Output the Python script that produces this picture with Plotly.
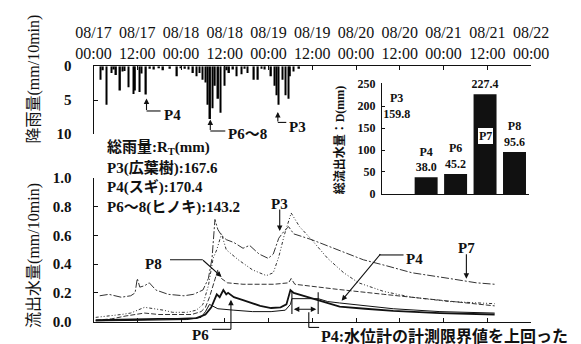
import plotly.graph_objects as go

W, H = 581, 344

# ---------------- data ----------------
tick_hours = [0, 12, 24, 36, 48, 60, 72, 84, 96, 108, 120]
tick_dates = ["08/17", "08/17", "08/18", "08/18", "08/19", "08/19",
              "08/20", "08/20", "08/21", "08/21", "08/22"]
tick_times = ["00:00", "12:00", "00:00", "12:00", "00:00", "12:00",
              "00:00", "12:00", "00:00", "12:00", "00:00"]

# rainfall (hours since 08/17 00:00, mm/10min)
rain_t = [1.9, 3.5, 4.9, 6.2, 7.3, 7.9, 9.6, 10.9, 11.4, 12.7, 13.2, 14.4,
          16.6, 19.1, 22.9, 25.1, 27.3, 28.2, 29.0, 29.9, 30.7, 31.3, 32.0,
          32.6, 33.3, 34.2, 34.8, 35.9, 37.2, 39.3, 40.6, 42.3, 44.0, 45.1,
          47.0, 48.7, 49.6, 50.2, 50.7, 51.8, 52.6, 53.5, 53.9, 54.9, 56.4,
          2.6, 5.6, 8.5, 15.5, 18.0, 21.0, 24.0, 26.0, 36.5, 38.3, 41.5, 46.0]
rain_v = [2.0, 5.7, 1.0, 1.3, 3.6, 0.8, 3.1, 4.1, 3.6, 3.8, 1.1, 4.2,
          0.5, 0.6, 1.5, 0.4, 1.0, 1.5, 1.0, 2.0, 2.4, 5.7, 7.8,
          6.2, 2.9, 4.8, 6.9, 2.9, 1.0, 1.5, 1.2, 1.0, 2.0, 2.0,
          0.5, 1.5, 2.9, 4.3, 5.7, 2.0, 4.3, 4.8, 1.5, 0.8, 0.4,
          0.6, 0.5, 0.7, 0.4, 0.3, 0.4, 0.3, 0.5, 0.6, 0.5, 0.4, 0.4]

# outflow (hours, mm/10min)
p7_t = [1.7, 4.2, 7.6, 10.2, 11.4, 12.0, 12.7, 14.0, 15.3, 17.1, 20.5, 24.8,
        27.4, 30.0, 31.5, 32.5, 33.3, 34.1, 35.1, 36.4, 38.5, 41.0, 42.8,
        45.4, 47.9, 49.3, 50.8, 52.3, 53.5, 54.9, 59.8, 67.0, 74.0, 80.1,
        87.3, 97.6, 105.0, 110.0]
p7_v = [0.18, 0.19, 0.17, 0.18, 0.20, 0.30, 0.24, 0.25, 0.27, 0.22, 0.19, 0.18,
        0.19, 0.22, 0.30, 0.44, 0.71, 0.64, 0.60, 0.57, 0.55, 0.51, 0.53,
        0.47, 0.44, 0.47, 0.58, 0.63, 0.66, 0.61, 0.57, 0.50, 0.43, 0.39,
        0.34, 0.30, 0.27, 0.26]

p3_t = [0.6, 5.0, 7.6, 10.2, 12.0, 14.0, 16.6, 19.2, 21.7, 25.6, 28.2, 30.0,
        31.5, 32.8, 33.8, 35.1, 36.4, 39.7, 43.6, 47.4, 49.3, 50.8, 52.3,
        54.2, 56.5, 59.8, 64.2, 68.6, 72.7, 79.6, 87.3, 97.6, 110.0]
p3_v = [0.03, 0.04, 0.05, 0.06, 0.08, 0.10, 0.09, 0.08, 0.065, 0.065, 0.08, 0.12,
        0.25, 0.44, 0.50, 0.61, 0.50, 0.43, 0.36, 0.32, 0.34, 0.45, 0.60,
        0.755, 0.66, 0.57, 0.44, 0.34, 0.27, 0.21, 0.17, 0.14, 0.125]

p8_t = [0.6, 5.0, 8.9, 11.4, 14.0, 17.9, 23.0, 26.9, 29.5, 30.7, 31.8, 33.1,
        34.1, 35.1, 36.7, 41.0, 49.5, 53.5, 54.2, 55.2, 59.8, 66.8, 79.6,
        95.0, 110.0]
p8_v = [0.01, 0.02, 0.04, 0.05, 0.06, 0.05, 0.05, 0.05, 0.07, 0.10, 0.17, 0.28,
        0.36, 0.30, 0.27, 0.26, 0.26, 0.27, 0.30, 0.26, 0.245, 0.225, 0.19,
        0.15, 0.11]

p6_t = [0.6, 7.6, 12.7, 17.9, 23.0, 28.2, 30.7, 32.3, 33.8, 34.6, 35.6, 36.4,
        36.9, 38.5, 41.0, 43.6, 45.7, 48.7, 51.3, 52.9, 54.0, 54.9, 59.0,
        61.6, 67.5, 74.5, 82.2, 95.0, 110.0]
p6_v = [0.01, 0.015, 0.02, 0.02, 0.02, 0.025, 0.05, 0.10, 0.19, 0.17, 0.22, 0.19,
        0.20, 0.17, 0.15, 0.13, 0.11, 0.095, 0.10, 0.12, 0.22, 0.20, 0.17,
        0.15, 0.105, 0.09, 0.075, 0.06, 0.05]

p4_t = [0.6, 10.2, 17.9, 25.6, 29.5, 30.7, 31.8, 33.1, 34.1, 38.5, 43.6, 48.7,
        52.6, 54.0, 54.4, 61.6, 64.2, 67.5, 74.5, 82.2, 95.0, 110.0]
p4_v = [0.005, 0.01, 0.015, 0.015, 0.03, 0.07, 0.12, 0.10, 0.09, 0.08, 0.07, 0.07,
        0.08, 0.12, 0.16, 0.16, 0.14, 0.13, 0.11, 0.09, 0.07, 0.06]

bar_sites = ["P3", "P4", "P6", "P7", "P8"]
bar_values = [159.8, 38.0, 45.2, 227.4, 95.6]

total_rain_sites = ["P3(広葉樹)", "P4(スギ)", "P6～8(ヒノキ)"]
total_rain_values = [167.6, 170.4, 143.2]

# ---------------- helpers ----------------
def px(x):
    return x / W

def py(y):
    return 1 - y / H

SERIF = "Liberation Serif, Noto Sans CJK JP"
INK = "#111111"

fig = go.Figure()

# rain bars
fig.add_trace(go.Bar(x=rain_t, y=rain_v, width=0.4, marker=dict(color="black", line=dict(width=0)),
                     xaxis="x", yaxis="y", hoverinfo="skip"))

# outflow lines
series = [
    (p7_t, p7_v, dict(color="#333333", width=1.0, dash="8px,2px,2px,2px")),
    (p3_t, p3_v, dict(color="#333333", width=1.0, dash="3px,2px,1px,2px,1px,2px")),
    (p8_t, p8_v, dict(color="#333333", width=1.0, dash="5px,2px")),
    (p4_t, p4_v, dict(color=INK, width=1.0)),
    (p6_t, p6_v, dict(color=INK, width=1.8)),
]
for t, v, ln in series:
    fig.add_trace(go.Scatter(x=t, y=v, mode="lines", line=ln, xaxis="x2", yaxis="y2",
                             hoverinfo="skip"))

# inset bars
bar_colors = ["white", INK, INK, INK, INK]
bar_texts = ["%s<br>%.1f" % (s, v) for s, v in zip(bar_sites, bar_values)]
bar_texts[3] = "%.1f" % bar_values[3]
fig.add_trace(go.Bar(x=bar_sites, y=bar_values, width=0.78,
                     marker=dict(color=bar_colors, line=dict(width=0)),
                     text=bar_texts, textposition="outside", cliponaxis=False,
                     constraintext="none",
                     textfont=dict(family=SERIF, size=12, color=INK, weight="bold"),
                     xaxis="x3", yaxis="y3", hoverinfo="skip"))

ticktext = ["%s<br>%s" % (d, t) for d, t in zip(tick_dates, tick_times)]
XDOM = [px(80.5), px(547)]
bold15 = dict(family=SERIF, size=15, color=INK, weight="bold")

fig.update_layout(
    width=W, height=H, margin=dict(l=0, r=0, t=0, b=0),
    paper_bgcolor="white", plot_bgcolor="rgba(0,0,0,0)", showlegend=False,
    barmode="overlay",
    xaxis=dict(domain=XDOM, anchor="y", side="top", range=[0, 120],
               tickvals=tick_hours, ticktext=ticktext, ticks="inside", ticklen=4,
               tickcolor=INK, showline=True, linecolor=INK, linewidth=1.2,
               showgrid=False, zeroline=False,
               tickfont=dict(family=SERIF, size=16, color=INK)),
    yaxis=dict(domain=[py(132), py(61)], anchor="x", range=[10, 0],
               tickvals=[0, 5, 10], ticks="inside", ticklen=4, tickcolor=INK,
               showline=True, linecolor=INK, linewidth=1.2, showgrid=False,
               zeroline=False, tickfont=bold15, ticklabelstandoff=18),
    xaxis2=dict(domain=XDOM, anchor="y2", range=[0, 120], tickvals=tick_hours,
                showticklabels=False, ticks="inside", ticklen=4, tickcolor=INK,
                showline=True, linecolor=INK, linewidth=1.2, showgrid=False,
                zeroline=False),
    yaxis2=dict(domain=[py(329), py(178)], anchor="x2", range=[0, 1.0],
                tickvals=[0, 0.2, 0.4, 0.6, 0.8, 1.0], tickformat=".1f",
                ticks="inside", ticklen=4, tickcolor=INK, showline=True,
                linecolor=INK, linewidth=1.2, showgrid=False, zeroline=False,
                tickfont=bold15, ticklabelstandoff=18),
    xaxis3=dict(domain=[px(388), px(545)], anchor="y3", type="category",
                range=[-0.5, 4.5], showticklabels=False, ticks="",
                showline=True, linecolor=INK, linewidth=1.2, showgrid=False),
    yaxis3=dict(domain=[py(195), py(79)], anchor="x3", range=[0, 252],
                tickvals=[0, 50, 100, 150, 200, 250], ticks="inside", ticklen=3,
                tickcolor=INK, showline=True, linecolor=INK, linewidth=1.0,
                showgrid=False, zeroline=False, ticklabelstandoff=3,
                tickfont=dict(family=SERIF, size=12, color=INK, weight="bold")),
)

ann = []
shapes = []
DY = 4  # vertical correction of text boxes

def text(x, y, s, size=15, xanchor="left", bold=True, angle=0):
    ann.append(dict(x=px(x), y=py(y + (DY if angle == 0 else 0)), xref="paper", yref="paper",
                    text=s, showarrow=False, xanchor=xanchor, yanchor="middle",
                    textangle=angle,
                    font=dict(family=SERIF, size=size, color=INK,
                              weight="bold" if bold else "normal")))

def arrow(x0, y0, x1, y1, both=False):
    d = dict(x=px(x1), y=py(y1), xref="paper", yref="paper", text="",
             showarrow=True, ax=x0 - x1, ay=y0 - y1, axref="pixel", ayref="pixel",
             arrowhead=2, arrowsize=1, arrowwidth=1.1, arrowcolor=INK, standoff=0)
    if both:
        d["arrowside"] = "end+start"
        d["startarrowhead"] = 2
        d["startarrowsize"] = 1
    ann.append(d)

def seg(x0, y0, x1, y1, w=1.1):
    shapes.append(dict(type="line", xref="paper", yref="paper",
                       x0=px(x0), y0=py(y0), x1=px(x1), y1=py(y1),
                       line=dict(color=INK, width=w)))

# axis titles
text(17, 74, "降雨量(mm/10min)", size=16, xanchor="center", bold=False, angle=-90)
text(17, 259, "流出水量(mm/10min)", size=16, xanchor="center", bold=False, angle=-90)
text(343, 138, "総流出水量：D(mm)", size=12, xanchor="center", bold=True, angle=-90)

# rain labels
arrow(137, 108, 137, 95); seg(137, 108, 152, 108); text(153, 108, "P4")
arrow(205, 129, 205, 117); seg(205, 129, 221, 129); text(222, 128, "P6～8")
arrow(277, 120, 277, 109); seg(277, 120, 286, 120); text(287, 121, "P3")

# total rainfall block
text(93, 143, "総雨量:R<sub>T</sub>(mm)")
for i, (s, v) in enumerate(zip(total_rain_sites, total_rain_values)):
    text(93, 164 + 20.7 * i, "%s:%.1f" % (s, v))

# outflow labels
text(279, 202, "P3", xanchor="center"); arrow(279, 211, 279, 234)
text(156, 264, "P8", xanchor="right"); seg(162, 264, 197, 264); arrow(197, 264, 217, 282)
text(412, 259, "P4"); seg(385, 259, 411, 259); arrow(385, 259, 345, 307)
text(478, 248, "P7", xanchor="center"); arrow(478, 258, 478, 284)
text(206, 339, "P6", xanchor="right"); seg(207, 337, 227, 337); arrow(227, 337, 227, 306)

# gauge-limit bracket
seg(292, 297, 292, 321); seg(320, 298, 320, 321)
arrow(294, 316, 318, 316, both=True)
seg(310, 319, 310, 335); seg(310, 335, 321, 335)
text(321, 340, "P4:水位計の計測限界値を上回った", size=16)

# P7 box in the inset
ann.append(dict(x="P7", y=132, xref="x3", yref="y3", text="<b>P7</b>", showarrow=False,
                bgcolor="white", bordercolor=INK, borderwidth=1, borderpad=1,
                font=dict(family=SERIF, size=12, color=INK)))

fig.update_layout(annotations=ann, shapes=shapes)
fig.write_html("out.html")
